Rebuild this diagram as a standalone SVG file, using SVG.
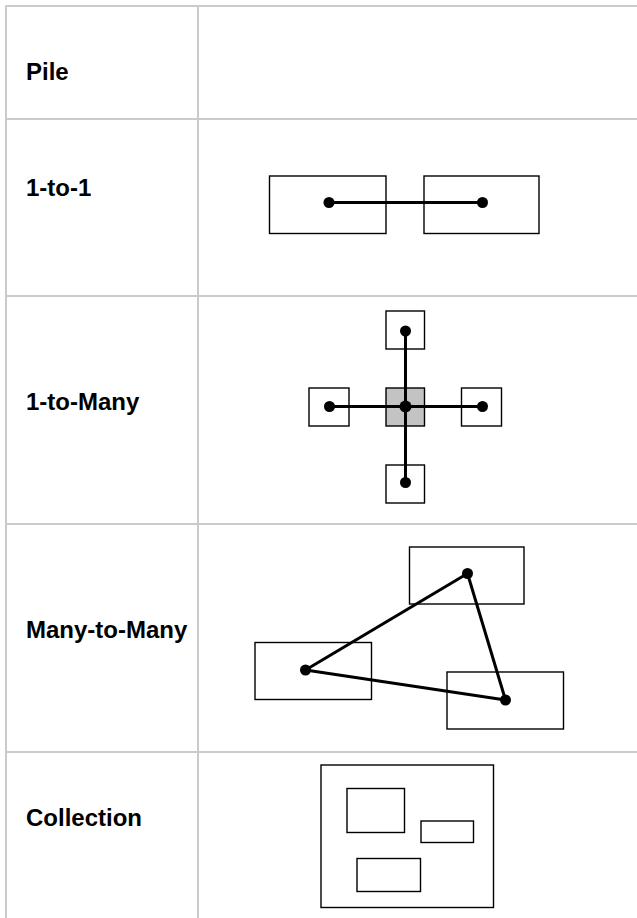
<svg xmlns="http://www.w3.org/2000/svg" width="637" height="918" viewBox="0 0 637 918">
<style>
.grid{stroke:#cbcbcb;stroke-width:2;fill:none}
.lbl{font-family:"Liberation Sans",Arial,sans-serif;font-weight:bold;font-size:24px;fill:#000}
.box{fill:#fff;stroke:#000;stroke-width:1.4}
.hub{fill:#c3c3c3;stroke:#000;stroke-width:1.4}
.edge{stroke:#000;stroke-width:3;fill:none}
.dot{fill:#000}
</style>
<rect width="637" height="918" fill="#fff"/>
<g id="table" class="grid">
<line x1="6" y1="6" x2="637" y2="6"/>
<line x1="6" y1="119" x2="637" y2="119"/>
<line x1="6" y1="296" x2="637" y2="296"/>
<line x1="6" y1="524" x2="637" y2="524"/>
<line x1="6" y1="752" x2="637" y2="752"/>
<line x1="6" y1="5" x2="6" y2="918"/>
<line x1="198" y1="5" x2="198" y2="918"/>
</g>
<g id="labels">
<text class="lbl" x="26" y="79.5">Pile</text>
<text class="lbl" x="26" y="195.5">1-to-1</text>
<text class="lbl" x="26" y="410">1-to-Many</text>
<text class="lbl" x="26" y="638">Many-to-Many</text>
<text class="lbl" x="26" y="826">Collection</text>
</g>
<g id="one-to-one-a"><rect class="box" x="269.5" y="176" width="116.5" height="57.5"/></g>
<g id="one-to-one-b"><rect class="box" x="424" y="176" width="115" height="57.5"/></g>
<g id="otm-top"><rect class="box" x="386" y="311" width="38.5" height="38"/></g>
<g id="otm-left"><rect class="box" x="309" y="388" width="40" height="38"/></g>
<g id="otm-center"><rect class="hub" x="386" y="388" width="38.5" height="38"/></g>
<g id="otm-right"><rect class="box" x="461.5" y="388" width="40" height="38"/></g>
<g id="otm-bottom"><rect class="box" x="386" y="465" width="38.5" height="38"/></g>
<g id="mtm-top"><rect class="box" x="409.5" y="547" width="114.5" height="57"/></g>
<g id="mtm-left"><rect class="box" x="255" y="642.5" width="116.5" height="57"/></g>
<g id="mtm-right"><rect class="box" x="447" y="672" width="116.5" height="57"/></g>
<g id="collection">
<rect class="box" x="321" y="765" width="172.5" height="142.5" stroke-width="1.6"/>
<rect class="box" x="347" y="788.5" width="57.5" height="44"/>
<rect class="box" x="421" y="821" width="52.5" height="21.5"/>
<rect class="box" x="357" y="858.5" width="63.5" height="33"/>
</g>
<g id="connectors">
<line class="edge" x1="329" y1="202.5" x2="482.5" y2="202.5"/>
<circle class="dot" cx="329" cy="202.5" r="5.5"/>
<circle class="dot" cx="482.5" cy="202.5" r="5.5"/>
<line class="edge" x1="405.5" y1="331" x2="405.5" y2="483"/>
<line class="edge" x1="329.5" y1="406.5" x2="482.5" y2="406.5"/>
<circle class="dot" cx="405.5" cy="406.5" r="6"/>
<circle class="dot" cx="405.5" cy="331" r="5.5"/>
<circle class="dot" cx="405.5" cy="482.5" r="5.5"/>
<circle class="dot" cx="329.5" cy="406.5" r="5.5"/>
<circle class="dot" cx="482.5" cy="406.5" r="5.5"/>
<polygon class="edge" points="467.5,573.5 305.5,670 505.5,700" stroke-linejoin="round"/>
<circle class="dot" cx="467.5" cy="573.5" r="5.5"/>
<circle class="dot" cx="305.5" cy="670" r="5.5"/>
<circle class="dot" cx="505.5" cy="700" r="5.5"/>
</g>
</svg>
